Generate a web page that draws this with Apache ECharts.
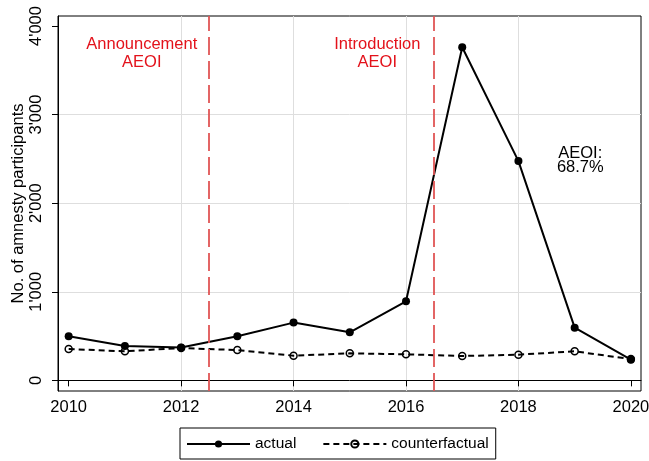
<!DOCTYPE html>
<html>
<head>
<meta charset="utf-8">
<script src="https://cdn.jsdelivr.net/npm/echarts@6/dist/echarts.min.js"></script>
<style>
  html, body { margin: 0; padding: 0; background: #fff; }
  #main { width: 649px; height: 461px; }
</style>
</head>
<body>
<div id="main"></div>
<script>
// data
const years = [2010, 2011, 2012, 2013, 2014, 2015, 2016, 2017, 2018, 2019, 2020];
const actual = [497, 388, 370, 497, 652, 542, 893, 3760, 2475, 595, 234];
const counterfactual = [354, 328, 365, 342, 279, 305, 294, 275, 290, 328, 240];
const xTicks = [2010, 2012, 2014, 2016, 2018, 2020];
const yTicks = [0, 1000, 2000, 3000, 4000];
const eventLines = [2012.5, 2016.5];
const notes = [
    [2011.3, 3692, 'Announcement\nAEOI'],
    [2015.49, 3692, 'Introduction\nAEOI'],
    [2019.1, 2484, 'AEOI:\n68.7%']
];

const font = "'Liberation Sans', Arial, Helvetica, sans-serif";
const red = '#e3121b';

function fmt(v) {
    return String(v).replace(/\B(?=(\d{3})+(?!\d))/g, "'");
}

const noteData = notes.map(function (n, i) {
    return {
        value: [n[0], n[1]],
        name: n[2],
        label: {
            color: i < 2 ? red : '#000',
            lineHeight: i < 2 ? 18.5 : 13.5
        }
    };
});

const option = {
    animation: false,
    backgroundColor: '#fff',
    textStyle: { fontFamily: font },
    grid: {
        left: 58, right: 8, top: 16, bottom: 70,
        show: true, borderColor: '#000', borderWidth: 1,
        containLabel: false,
        outerBoundsMode: 'none'
    },
    legend: {
        left: 180, top: 428,
        padding: [8, 7, 7, 6],
        itemGap: 26,
        itemWidth: 63,
        itemHeight: 9,
        borderColor: '#000',
        borderWidth: 1,
        textStyle: { fontSize: 15.5, color: '#000', fontFamily: font },
        data: ['actual', 'counterfactual']
    },
    xAxis: {
        type: 'value',
        min: 2009.81, max: 2020.18,
        minInterval: 2, maxInterval: 2,
        axisLine: { show: true, lineStyle: { color: '#000', width: 1 } },
        axisTick: { show: true, length: 6, customValues: xTicks, lineStyle: { color: '#000' } },
        axisLabel: {
            customValues: xTicks, margin: 8, fontSize: 16.5, color: '#000', fontFamily: font,
            hideOverlap: false,
            formatter: function (v) { return String(v); }
        },
        splitLine: { show: true, showMinLine: false, showMaxLine: false, lineStyle: { color: '#dedede', width: 1 } }
    },
    yAxis: {
        type: 'value',
        min: -120, max: 4113,
        minInterval: 1000, maxInterval: 1000,
        name: 'No. of amnesty participants',
        nameLocation: 'middle',
        nameRotate: 90,
        nameGap: 31,
        nameMoveOverlap: false,
        nameTextStyle: { fontSize: 16.5, color: '#000', fontFamily: font },
        axisLine: { show: true, lineStyle: { color: '#000', width: 1 } },
        axisTick: { show: true, length: 6, customValues: yTicks, lineStyle: { color: '#000' } },
        axisLabel: {
            customValues: yTicks, rotate: 90, margin: 13, fontSize: 16.5, color: '#000', fontFamily: font,
            formatter: fmt
        },
        splitLine: { show: true, showMinLine: false, showMaxLine: false, lineStyle: { color: '#dedede', width: 1 } }
    },
    series: [
        {
            name: 'notes',
            type: 'scatter',
            z: 1,
            symbolSize: 0.1,
            itemStyle: { color: 'rgba(0,0,0,0)' },
            silent: true,
            label: {
                show: true,
                position: 'inside',
                align: 'center',
                verticalAlign: 'middle',
                fontSize: 16.5,
                fontFamily: font,
                textBorderWidth: 0,
                opacity: 1,
                formatter: function (p) { return p.name; }
            },
            data: noteData,
            markLine: {
                silent: true,
                symbol: 'none',
                label: { show: false },
                lineStyle: { color: '#e05555', width: 1.8, type: [18, 6] },
                data: eventLines.map(function (x) { return { xAxis: x }; })
            }
        },
        {
            name: 'counterfactual',
            type: 'line',
            z: 3,
            data: years.map(function (y, i) { return [y, counterfactual[i]]; }),
            symbol: 'circle',
            symbolSize: 7,
            lineStyle: { color: '#000', width: 2, type: [6, 4] },
            itemStyle: { color: 'rgba(0,0,0,0)', borderColor: '#000', borderWidth: 1.5 }
        },
        {
            name: 'actual',
            type: 'line',
            z: 4,
            data: years.map(function (y, i) { return [y, actual[i]]; }),
            symbol: 'circle',
            symbolSize: 8,
            lineStyle: { color: '#000', width: 2 },
            itemStyle: { color: '#000' }
        }
    ]
};

const chart = echarts.init(document.getElementById('main'));
chart.setOption(option);
</script>
</body>
</html>
